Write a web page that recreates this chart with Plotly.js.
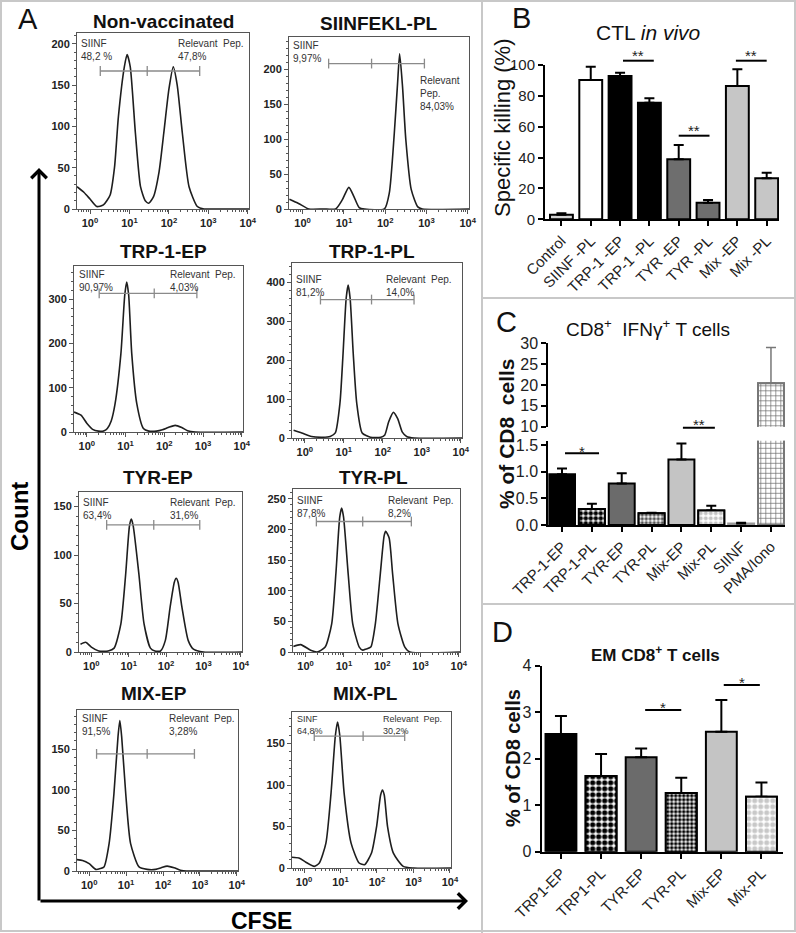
<!DOCTYPE html>
<html><head><meta charset="utf-8">
<script src="https://cdn.plot.ly/plotly-3.0.1.min.js"></script>
<style>html,body{margin:0;padding:0;background:#fff}</style>
</head><body><div id="chart" style="width:796px;height:933px"></div>
<script>
// ===== Panel A: CFSE histograms (x = CFSE decade, log10; y = count) =====
const histTitles = ['Non-vaccinated','SIINFEKL-PL','TRP-1-EP','TRP-1-PL','TYR-EP','TYR-PL','MIX-EP','MIX-PL'];
const nonVacX = [-0.33,-0.15,0.0,0.17,0.34,0.51,0.62,0.72,0.87,0.94,1.02,1.15,1.28,1.40,1.49,1.61,1.75,1.87,2.00,2.11,2.21,2.34,2.51,2.72,2.89,3.2,4.05];
const nonVacY = [27,20,12,3,5,17,50,112,172,187,172,92,27,10,7,15,45,92,145,172,150,92,27,3,0,0,0];
const siinX = [-0.32,-0.1,0.15,0.5,0.80,0.96,1.12,1.24,1.37,1.5,1.98,2.10,2.22,2.30,2.35,2.42,2.50,2.63,2.79,2.9,4.05];
const siinY = [14,8,0,0,0,13,31,18,2,0,0,23,108,180,222,175,99,28,3,0,0];
const trpEpX = [-0.33,-0.15,0.0,0.15,0.3,0.45,0.53,0.63,0.73,0.88,0.98,1.03,1.08,1.16,1.29,1.46,1.6,1.8,1.95,2.1,2.28,2.45,2.6,2.8,4.05];
const trpEpY = [45,38,20,6,2,3,8,25,64,177,310,339,310,177,64,8,2,2,5,10,15,10,3,0,0];
const trpPlX = [-0.29,-0.08,0.17,0.45,0.65,0.78,0.90,0.98,1.06,1.11,1.16,1.24,1.33,1.47,1.68,1.95,2.05,2.15,2.27,2.38,2.50,2.61,2.8,4.05];
const trpPlY = [20,13,4,2,4,13,90,218,360,393,360,218,90,13,2,2,8,42,66,50,15,4,0,0];
const tyrEpX = [-0.29,-0.15,0.0,0.2,0.45,0.61,0.79,0.92,1.02,1.07,1.12,1.27,1.41,1.58,1.70,1.85,1.98,2.11,2.22,2.27,2.32,2.42,2.59,2.73,3.0,4.05];
const tyrEpY = [8,10,5,1,1,4,29,81,130,137,130,81,29,4,1,1,12,47,72,76,72,47,12,3,0,0];
const tyrPlX = [-0.32,-0.13,0.13,0.30,0.51,0.68,0.79,0.89,0.94,0.99,1.11,1.23,1.40,1.49,1.58,1.70,1.82,1.95,2.05,2.09,2.18,2.27,2.41,2.59,2.72,4.05];
const tyrPlY = [9,12,3,0,8,46,128,220,235,220,128,46,8,3,5,8,46,128,190,197,186,128,46,8,0,0];
const mixEpX = [-0.34,-0.18,0.0,0.18,0.30,0.40,0.54,0.67,0.78,0.83,0.88,0.99,1.12,1.35,1.57,1.8,1.95,2.11,2.3,2.47,2.7,4.05];
const mixEpY = [14,13,9,2,3,5,34,95,165,185,165,95,34,5,2,2,4,6,4,1,0,0];
const mixPlX = [-0.35,-0.14,0.05,0.28,0.42,0.60,0.74,0.86,0.92,0.98,1.10,1.29,1.51,1.66,1.85,1.99,2.10,2.15,2.20,2.29,2.45,2.72,3.0,4.05];
const mixPlY = [13,12,7,2,6,30,90,160,176,160,90,30,6,4,18,50,88,94,88,50,18,2,0,0];
const gateLeft  = [0.26,0.63,0.32,0.40,0.41,0.28,0.20,0.28];
const gateMid   = [1.45,1.67,1.74,1.71,1.67,1.49,1.57,1.62];
const gateRight = [2.78,2.95,2.84,2.80,2.90,2.76,2.85,2.76];
const gateLevel = [167,208,313,356,131,213,144,159];
const siinfLabel = ['SIINF','SIINF','SIINF','SIINF','SIINF','SIINF','SIINF','SINF'];
const siinfPct = ['48,2 %','9,97%','90,97%','81,2%','63,4%','87,8%','91,5%','64,8%'];
const relevantLabel = ['Relevant\u00a0 Pep.','Relevant<br>Pep.','Relevant\u00a0 Pep.','Relevant\u00a0 Pep.','Relevant\u00a0 Pep.','Relevant\u00a0 Pep.','Relevant\u00a0 Pep.','Relevant\u00a0 Pep.'];
const relevantPct = ['47,8%','84,03%','4,03%','14,0%','31,6%','8,2%','3,28%','30,2%'];
const cfseTickVals = [0,1,2,3,4];
const cfseTickText = ['10<sup>0</sup>','10<sup>1</sup>','10<sup>2</sup>','10<sup>3</sup>','10<sup>4</sup>'];

// ===== Panel B: CTL in vivo =====
const bCategories = ['Control','SIINF -PL','TRP-1 -EP','TRP-1 -PL','TYR -EP','TYR -PL','Mix -EP','Mix -PL'];
const bValues = [3.0,90.2,92.9,75.6,38.9,10.8,86.4,26.6];
const bErrors = [0.9,8.7,2.0,2.8,9.3,1.7,10.8,3.6];
const bSigFrom = [2.1,4.0,5.95];
const bSigTo = [3.15,5.05,7.0];
const bSigText = ['**','**','**'];

// ===== Panel C: CD8+ IFNg+ T cells =====
const cCategories = ['TRP-1-EP','TRP-1-PL','TYR-EP','TYR-PL','Mix-EP','Mix-PL','SIINF','PMA/Iono'];
const cValues = [0.95,0.30,0.78,0.22,1.23,0.27,0.03,20.4];
const cErrors = [0.11,0.10,0.19,0.01,0.30,0.09,0.01,8.6];
const cSigFrom = [0.1,4.05];
const cSigTo = [1.24,5.12];
const cSigText = ['*','**'];

// ===== Panel D: EM CD8+ T cells =====
const dCategories = ['TRP1-EP','TRP1-PL','TYR-EP','TYR-PL','Mix-EP','Mix-PL'];
const dValues = [2.53,1.63,2.03,1.26,2.58,1.18];
const dErrors = [0.39,0.47,0.19,0.33,0.68,0.31];
const dSigFrom = [2.1,4.06];
const dSigTo = [3.0,4.96];
const dSigText = ['*','*'];

// ---------- layout helpers ----------
const W = 796, H = 933;
const FONT = 'Arial, "Liberation Sans", sans-serif';
const xdom = (a, b) => [a / W, b / W];
const ydom = (top, bottom) => [1 - bottom / H, 1 - top / H];
const PX = v => v / W, PY = v => 1 - v / H;

const traces = [];
const annotations = [];
const shapes = [];
const layout = {
  width: W, height: H, margin: {l: 0, r: 0, t: 0, b: 0},
  paper_bgcolor: '#fff', plot_bgcolor: 'rgba(0,0,0,0)', barmode: 'overlay',
  showlegend: false, font: {family: FONT, color: '#222'},
  annotations: annotations, shapes: shapes
};
function ann(x, y, text, opt) {
  annotations.push(Object.assign({xref: 'paper', yref: 'paper', x: PX(x), y: PY(y), text: text,
    xanchor: 'center', yanchor: 'middle', showarrow: false,
    font: {family: FONT, size: 12, color: '#222'}}, opt || {}));
}

// ---------- Panel A ----------
const histData = [[nonVacX, nonVacY],[siinX, siinY],[trpEpX, trpEpY],[trpPlX, trpPlY],
                  [tyrEpX, tyrEpY],[tyrPlX, tyrPlY],[mixEpX, mixEpY],[mixPlX, mixPlY]];
const histBoxes = [[77,33,249,209],[289,37,469,209],[74,266,243,432],[292,263,462,438],
                   [79,492,242,652],[293,489,460,652],[77,710,238,871],[292,712,451,868]];
const histYMax = [213,246,375,450,165,266,198,188];
const histYStep = [50,50,100,100,50,50,50,50];
const histTitlePos = [[163,22],[379,23],[163,252],[372,252],[158,478],[373,477],[154,693],[365,693]];
const siinfTextPos = [[79,36],[291,38],[77,267],[294,272],[81,495],[295,493],[80,711],[295,712]];
const relTextPos = [[176,36],[418,73],[168,267],[384,272],[168,495],[386,493],[167,711],[381,712]];
const minorX = [];
for (let n = -1; n < 4; n++) for (let k = 2; k <= 9; k++) { const v = n + Math.log10(k); if (v > -0.33 && v < 4.03) minorX.push(v); }

histBoxes.forEach((b, i) => {
  const n = i + 1;
  const axc = '#555';
  layout['xaxis' + n] = {domain: xdom(b[0], b[2]), anchor: 'y' + n, range: [-0.33, 4.03],
    tickmode: 'array', tickvals: cfseTickVals, ticktext: cfseTickText,
    showline: true, mirror: true, linecolor: axc, linewidth: 1, ticks: 'outside', ticklen: 4, tickcolor: axc,
    tickfont: {family: FONT, size: 11, weight: 'bold', color: '#222'},
    minor: {tickmode: 'array', tickvals: minorX, ticks: 'outside', ticklen: 2, tickcolor: axc, showgrid: false},
    zeroline: false, showgrid: false, fixedrange: true};
  layout['yaxis' + n] = {domain: ydom(b[1], b[3]), anchor: 'x' + n, range: [0, histYMax[i]],
    tick0: 0, dtick: histYStep[i], showline: true, mirror: true, linecolor: axc, linewidth: 1,
    ticks: 'outside', ticklen: 4, tickcolor: axc,
    tickfont: {family: FONT, size: 11, weight: 'bold', color: '#222'},
    minor: {dtick: histYStep[i] / 5, ticks: 'outside', ticklen: 2, tickcolor: axc, showgrid: false},
    zeroline: false, showgrid: false, fixedrange: true};
  traces.push({type: 'scatter', mode: 'lines', x: histData[i][0], y: histData[i][1],
    xaxis: 'x' + n, yaxis: 'y' + n, line: {color: '#1e1e1e', width: 1.6, shape: 'spline', smoothing: 0.6},
    hoverinfo: 'skip'});
  traces.push({type: 'scatter', mode: 'lines+markers',
    x: [gateLeft[i], gateMid[i], gateRight[i]], y: [gateLevel[i], gateLevel[i], gateLevel[i]],
    xaxis: 'x' + n, yaxis: 'y' + n, line: {color: '#8a8a8a', width: 1.3},
    marker: {symbol: 'line-ns-open', size: 7, color: '#8a8a8a', line: {color: '#8a8a8a', width: 1.3}},
    hoverinfo: 'skip'});
  ann(histTitlePos[i][0], histTitlePos[i][1], histTitles[i],
    {font: {family: FONT, size: 19, weight: 'bold', color: '#111'}});
  const fs = i === 7 ? 9 : 10;
  ann(siinfTextPos[i][0], siinfTextPos[i][1], siinfLabel[i] + '<br>' + siinfPct[i],
    {font: {family: FONT, size: fs, color: '#333'}, xanchor: 'left', yanchor: 'top', align: 'left'});
  ann(relTextPos[i][0], relTextPos[i][1], relevantLabel[i] + '<br>' + relevantPct[i],
    {font: {family: FONT, size: fs, color: '#333'}, xanchor: 'left', yanchor: 'top', align: 'left'});
});

// Count / CFSE arrows
annotations.push({xref: 'paper', yref: 'paper', x: PX(39), y: PY(168), ax: 0, ay: 734, text: '',
  showarrow: true, arrowhead: 4, arrowsize: 1, arrowwidth: 3, arrowcolor: '#000', standoff: 0});
annotations.push({xref: 'paper', yref: 'paper', x: PX(468), y: PY(901), ax: -429, ay: 0, text: '',
  showarrow: true, arrowhead: 4, arrowsize: 1, arrowwidth: 3, arrowcolor: '#000', standoff: 0});
ann(19, 517, 'Count', {font: {family: FONT, size: 24, weight: 'bold', color: '#000'}, textangle: -90});
ann(261, 921, 'CFSE', {font: {family: FONT, size: 23, weight: 'bold', color: '#000'}});

// ---------- bar panel helpers ----------
function barX(dom, anchor, range, labels) {
  return {domain: dom, anchor: anchor, range: range, tickmode: 'array',
    tickvals: labels.map((_, i) => i), ticktext: labels, tickangle: -45,
    showline: true, linecolor: '#000', linewidth: 2, ticks: 'outside', ticklen: 5, tickwidth: 2, tickcolor: '#000',
    tickfont: {family: FONT, size: 15, color: '#222'}, zeroline: false, showgrid: false, fixedrange: true};
}
function barY(dom, anchor, range, dtick, size, extra) {
  return Object.assign({domain: dom, anchor: anchor, range: range, dtick: dtick, tick0: 0,
    showline: true, linecolor: '#000', linewidth: 2, ticks: 'outside', ticklen: 5, tickwidth: 2, tickcolor: '#000',
    tickfont: {family: FONT, size: size, color: '#222'}, zeroline: false, showgrid: false, fixedrange: true}, extra || {});
}
// significance bracket: line in x-data units, vertical position in figure pixels
function sig(xa, x0, x1, lineY, textY, t) {
  shapes.push({type: 'line', xref: xa, yref: 'paper', x0: x0, x1: x1, y0: PY(lineY), y1: PY(lineY),
    line: {color: '#000', width: 2}});
  annotations.push({xref: xa, yref: 'paper', x: (x0 + x1) / 2, y: PY(textY), text: t, showarrow: false,
    xanchor: 'center', yanchor: 'middle', font: {family: FONT, size: 15, color: '#222'}});
}
// hatched (patterned) bar drawn over bar i of a series
function patternBar(xa, ya, i, values, width, p, lineColor) {
  traces.push({type: 'bar', x: [i], y: [values[i]], width: width, xaxis: xa, yaxis: ya, hoverinfo: 'skip',
    marker: {color: '#ffffff', line: {color: lineColor || '#000', width: 2},
             pattern: {shape: p.shape, fgcolor: p.fg, size: p.size, solidity: p.sol, fgopacity: 1, fillmode: 'overlay'}}});
}

// ---------- Panel B ----------
const bIdx = bCategories.map((_, i) => i);
layout.xaxis9 = barX(xdom(545, 779), 'y9', [-0.56, 7.42], bCategories);
layout.yaxis9 = barY(ydom(65, 219.3), 'x9', [0, 100], 20, 15);
traces.push({type: 'bar', x: bIdx, y: bValues, width: 0.78, xaxis: 'x9', yaxis: 'y9',
  marker: {color: ['#d4d4d4','#ffffff','#000000','#000000','#6e6e6e','#6e6e6e','#c6c6c6','#c6c6c6'],
           line: {color: '#000', width: 2}},
  error_y: {type: 'data', symmetric: false, array: bErrors, arrayminus: bErrors.map(() => 0),
            color: '#000', thickness: 2, width: 5},
  hoverinfo: 'skip'});
const bSigLineY = [60.7, 135.7, 60.7], bSigTextPY = [55.5, 130.5, 55.5];
bSigFrom.forEach((x0, k) => sig('x9', x0, bSigTo[k], bSigLineY[k], bSigTextPY[k], bSigText[k]));
ann(521, 18, 'B', {font: {family: FONT, size: 29, color: '#111'}});
ann(648, 33, 'CTL <i>in vivo</i>', {font: {family: FONT, size: 21, color: '#111'}});
ann(502, 128, 'Specific killing (%)', {font: {family: FONT, size: 22, color: '#111'}, textangle: -90});

// ---------- Panel C (broken y axis) ----------
const cIdx = cCategories.map((_, i) => i);
layout.xaxis10 = barX(xdom(548.3, 785), 'y10', [-0.46, 7.47], cCategories);
layout.yaxis10 = barY(ydom(440.8, 525), 'x10', [0, 1.58], 0.5, 16, {tickformat: '.1f'});
layout.yaxis11 = barY(ydom(343.3, 426.7), 'x10', [10, 30], 5, 16, {tick0: 10});
const cFill = ['#000000','#ffffff','#6b6b6b','#ffffff','#c4c4c4','#ffffff','#a0a0a0','#ffffff'];
const cLine = ['#000','#000','#000','#000','#000','#000','#999','#777'];
traces.push({type: 'bar', x: cIdx, y: cValues, width: 0.87, xaxis: 'x10', yaxis: 'y10',
  marker: {color: cFill, line: {color: cLine, width: 2}},
  error_y: {type: 'data', symmetric: false, array: cErrors, arrayminus: cErrors.map(() => 0),
            color: '#000', thickness: 2, width: 5}, hoverinfo: 'skip'});
traces.push({type: 'bar', x: cIdx, y: cValues, width: 0.87, xaxis: 'x10', yaxis: 'y11',
  marker: {color: cFill, line: {color: cLine, width: 2}},
  error_y: {type: 'data', symmetric: false, array: cErrors, arrayminus: cErrors.map(() => 0),
            color: '#777', thickness: 1.5, width: 5}, hoverinfo: 'skip'});
const cPatterns = [[1, {shape: '.', fg: '#000000', size: 5, sol: 0.62}, '#000'],
                   [3, {shape: '.', fg: '#555555', size: 4, sol: 0.55}, '#000'],
                   [5, {shape: '.', fg: '#c4c4c4', size: 5, sol: 0.5}, '#000'],
                   [7, {shape: '+', fg: '#666666', size: 5, sol: 0.25}, '#777']];
cPatterns.forEach(p => { patternBar('x10', 'y10', p[0], cValues, 0.87, p[1], p[2]); });
patternBar('x10', 'y11', 7, cValues, 0.87, cPatterns[3][1], '#777');
const cSigLineY = [453.3, 427.7], cSigTextPY = [451.5, 424];
cSigFrom.forEach((x0, k) => sig('x10', x0, cSigTo[k], cSigLineY[k], cSigTextPY[k], cSigText[k]));
ann(506, 322, 'C', {font: {family: FONT, size: 29, color: '#111'}});
ann(648, 328, 'CD8<sup>+</sup>\u00a0 IFNγ<sup>+</sup> T cells', {font: {family: FONT, size: 19, color: '#111'}});
ann(507, 434, '% of CD8\u00a0 cells', {font: {family: FONT, size: 21, weight: 'bold', color: '#111'}, textangle: -90});

// ---------- Panel D ----------
const dIdx = dCategories.map((_, i) => i);
layout.xaxis11 = barX(xdom(541.7, 782.7), 'y12', [-0.48, 5.53], dCategories);
layout.yaxis12 = barY(ydom(665.7, 851.7), 'x11', [0, 4], 1, 16);
traces.push({type: 'bar', x: dIdx, y: dValues, width: 0.77, xaxis: 'x11', yaxis: 'y12',
  marker: {color: ['#000000','#ffffff','#6b6b6b','#ffffff','#c4c4c4','#ffffff'], line: {color: '#000', width: 2}},
  error_y: {type: 'data', symmetric: false, array: dErrors, arrayminus: dErrors.map(() => 0),
            color: '#000', thickness: 2, width: 6}, hoverinfo: 'skip'});
patternBar('x11', 'y12', 1, dValues, 0.77, {shape: '.', fg: '#000000', size: 6, sol: 0.6});
patternBar('x11', 'y12', 3, dValues, 0.77, {shape: '.', fg: '#000000', size: 4, sol: 0.6});
patternBar('x11', 'y12', 5, dValues, 0.77, {shape: '.', fg: '#c8c8c8', size: 6, sol: 0.55});
const dSigLineY = [710, 685], dSigTextPY = [707, 682];
dSigFrom.forEach((x0, k) => sig('x11', x0, dSigTo[k], dSigLineY[k], dSigTextPY[k], dSigText[k]));
ann(502, 632, 'D', {font: {family: FONT, size: 29, color: '#111'}});
ann(655, 654, 'EM CD8<sup>+</sup> T cells', {font: {family: FONT, size: 17, weight: 'bold', color: '#111'}});
ann(513, 758, '% of CD8 cells', {font: {family: FONT, size: 20, weight: 'bold', color: '#111'}, textangle: -90});

ann(28, 19, 'A', {font: {family: FONT, size: 29, color: '#111'}});

// ---------- frame / separators ----------
const gray = '#c8c8c8';
shapes.push({type: 'rect', xref: 'paper', yref: 'paper', x0: PX(1), x1: PX(795), y0: PY(931), y1: PY(1), line: {color: gray, width: 2}});
shapes.push({type: 'line', xref: 'paper', yref: 'paper', x0: PX(482), x1: PX(482), y0: PY(0), y1: PY(933), line: {color: gray, width: 2}});
shapes.push({type: 'line', xref: 'paper', yref: 'paper', x0: PX(482), x1: PX(796), y0: PY(298), y1: PY(298), line: {color: gray, width: 2}});
shapes.push({type: 'line', xref: 'paper', yref: 'paper', x0: PX(482), x1: PX(796), y0: PY(604), y1: PY(604), line: {color: gray, width: 2}});

Plotly.newPlot('chart', traces, layout, {staticPlot: true, displayModeBar: false});
</script>
</body></html>
